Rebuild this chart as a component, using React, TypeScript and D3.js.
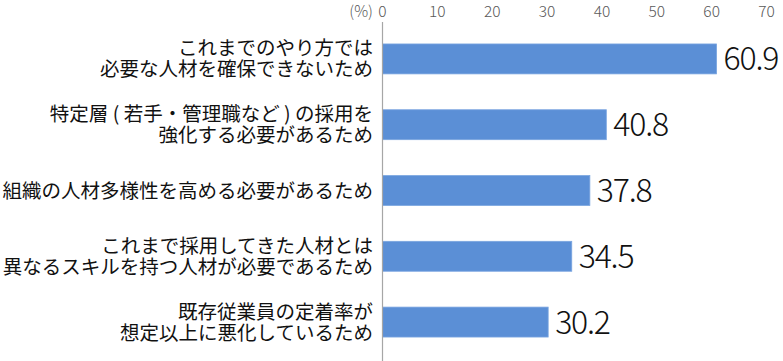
import React from "react";
import * as d3 from "d3";

const categories: string[][] = [
  ["これまでのやり方では", "必要な人材を確保できないため"],
  ["特定層 ( 若手・管理職など ) の採用を", "強化する必要があるため"],
  ["組織の人材多様性を高める必要があるため"],
  ["これまで採用してきた人材とは", "異なるスキルを持つ人材が必要であるため"],
  ["既存従業員の定着率が", "想定以上に悪化しているため"],
];
const values: number[] = [60.9, 40.8, 37.8, 34.5, 30.2];
const ticks: number[] = [0, 10, 20, 30, 40, 50, 60, 70];
const unitLabel = "(%)";

const W = 783;
const H = 361;
const FONT = "'Noto Sans CJK JP', 'Noto Sans', sans-serif";

export default function App() {
  const x = d3.scaleLinear().domain([0, 70]).range([382.5, 766.5]);
  const y = d3
    .scaleBand<number>()
    .domain(values.map((_, i) => i))
    .range([26, 355])
    .paddingInner(0.545)
    .paddingOuter(0.273);
  const bw = y.bandwidth();
  const lineGap = 21;
  const catFs = 19.5;
  const valFs = 32;

  return (
    <div style={{ position: "absolute", left: 0, top: 0, width: W, height: H }}>
      <svg width={W} height={H} style={{ display: "block", background: "#fff" }}>
        {/* ticks */}
        {ticks.map((t) => (
          <text
            key={t}
            x={x(t)}
            y={17}
            textAnchor="middle"
            fontFamily={FONT}
            fontWeight={300}
            fontSize={15.5}
            fill="#595959"
          >
            {t}
          </text>
        ))}
        <text
          x={373}
          y={17}
          textAnchor="end"
          fontFamily={FONT}
          fontWeight={300}
          fontSize={15.5}
          fill="#595959"
        >
          {unitLabel}
        </text>
        {/* bars */}
        {values.map((v, i) => (
          <rect
            key={i}
            x={x(0)}
            y={y(i)!}
            width={x(v) - x(0)}
            height={bw}
            fill="#5b8fd6"
            stroke="#7aa5e0"
            strokeWidth={0.8}
          />
        ))}
        {/* axis line */}
        <line x1={x(0)} x2={x(0)} y1={22} y2={H} stroke="#a6a6a6" strokeWidth={1.2} />
        {/* value labels */}
        {values.map((v, i) => (
          <text
            key={i}
            x={x(v) + 7}
            y={y(i)! + bw / 2 + valFs * 0.36}
            fontFamily={FONT}
            fontWeight={300}
            fontSize={valFs}
            letterSpacing={-1.2}
            fill="#111"
          >
            {v.toFixed(1)}
          </text>
        ))}
        {/* category labels */}
        {categories.map((lines, i) => {
          const cy = y(i)! + bw / 2;
          const n = lines.length;
          return (
            <text
              key={i}
              textAnchor="end"
              fontFamily={FONT}
              fontSize={catFs}
              fill="#111"
            >
              {lines.map((ln, j) => (
                <tspan
                  key={j}
                  x={373}
                  y={cy + (j - (n - 1) / 2) * lineGap + catFs * 0.36}
                >
                  {ln}
                </tspan>
              ))}
            </text>
          );
        })}
      </svg>
    </div>
  );
}
